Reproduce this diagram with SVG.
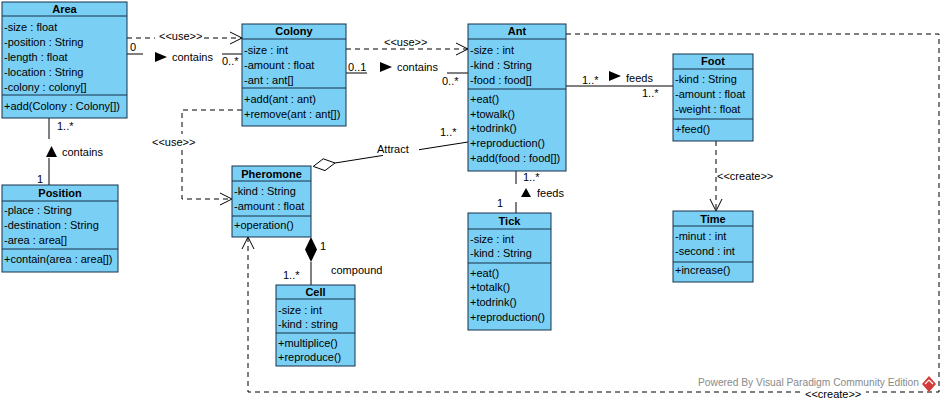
<svg xmlns="http://www.w3.org/2000/svg" width="942" height="402" viewBox="0 0 942 402">
<style>
.box{fill:#7acff5;stroke:#17304a;stroke-width:1}
.sep{stroke:#17304a;stroke-width:1}
text{font-family:"Liberation Sans",Arial,sans-serif;font-size:11px;fill:#000}
.ti{font-weight:bold;text-anchor:middle}
.ln{stroke:#000;stroke-width:1;fill:none}
.ds{stroke:#000;stroke-width:1;fill:none;stroke-dasharray:5,4}
.wm{fill:#8a8a8a;font-size:10px}
</style>
<defs>
<marker id="open" viewBox="-13 -7 14 14" refX="0" refY="0" markerWidth="14" markerHeight="14" markerUnits="userSpaceOnUse" orient="auto">
<path d="M-12,-6 L0,0 L-12,6" fill="none" stroke="#000" stroke-width="1" stroke-dasharray="none"/>
</marker>
</defs>
<rect width="942" height="402" fill="#fff"/>

<g id="connectors">
<path class="ds" d="M127,38 H155"/>
<path class="ds" d="M204,38 H242" marker-end="url(#open)"/>
<text x="159" y="40">&lt;&lt;use&gt;&gt;</text>
<path class="ln" d="M127,54 H143"/>
<path class="ln" d="M222,54 H242"/>
<text x="130" y="51">0</text>
<polygon points="155,52 155,62 167,57" fill="#000"/>
<text x="172" y="61">contains</text>
<text x="222" y="65">0..*</text>
<path class="ds" d="M346,49 H468" marker-end="url(#open)"/>
<text x="384" y="46">&lt;&lt;use&gt;&gt;</text>
<path class="ln" d="M346,73 H367"/>
<path class="ln" d="M447,73 H468"/>
<text x="348" y="71">0..1</text>
<polygon points="380,62 380,72 392,67" fill="#000"/>
<text x="397" y="71">contains</text>
<text x="442" y="85">0..*</text>
<path class="ln" d="M566,86 H673"/>
<text x="582" y="84">1..*</text>
<polygon points="609,71 609,81 621,76" fill="#000"/>
<text x="626" y="82">feeds</text>
<text x="642" y="97">1..*</text>
<path class="ln" d="M49,118 V139"/>
<path class="ln" d="M49,158 V185"/>
<polygon points="46,157 57,157 51.5,146" fill="#000"/>
<text x="62" y="156">contains</text>
<text x="57" y="130">1..*</text>
<text x="37" y="183">1</text>
<path class="ds" d="M242,110 H182 V134"/>
<path class="ds" d="M182,150 V199 H232" marker-end="url(#open)"/>
<text x="152" y="146">&lt;&lt;use&gt;&gt;</text>
<path class="ln" d="M335,163 L383,155.4"/>
<path class="ln" d="M419,149.7 L468,142"/>
<polygon points="313.3,166.4 323.2,158.8 335,163 325,170.6" fill="#fff" stroke="#000" stroke-width="1"/>
<text x="377" y="153">Attract</text>
<text x="440" y="136">1..*</text>
<path class="ln" d="M516,171 V184"/>
<path class="ln" d="M516,202 V213"/>
<polygon points="521,197 531,197 526,188" fill="#000"/>
<text x="537" y="197">feeds</text>
<text x="523" y="181">1..*</text>
<text x="497" y="207">1</text>
<path class="ln" d="M311,262 V285"/>
<polygon points="311,237 317,249.5 311,262 305,249.5" fill="#000"/>
<text x="320" y="250">1</text>
<text x="331" y="274">compound</text>
<text x="283" y="279">1..*</text>
<path class="ds" d="M716,141 V211" marker-end="url(#open)"/>
<text x="717" y="180">&lt;&lt;create&gt;&gt;</text>
<path class="ds" d="M566,34 H939 V392 H866"/>
<path class="ds" d="M800,392 H248 V237" marker-end="url(#open)"/>
<text x="805" y="398">&lt;&lt;create&gt;&gt;</text>
</g>

<g id="Area">
<rect class="box" x="2" y="2" width="125" height="116"/>
<line class="sep" x1="2" y1="16" x2="127" y2="16"/>
<line class="sep" x1="2" y1="95" x2="127" y2="95"/>
<text class="ti" x="64.5" y="13">Area</text>
<text x="4" y="31">-size : float</text>
<text x="4" y="46">-position : String</text>
<text x="4" y="61">-length : float</text>
<text x="4" y="76">-location : String</text>
<text x="4" y="91">-colony : colony[]</text>
<text x="4" y="110">+add(Colony : Colony[])</text>
</g>

<g id="Colony">
<rect class="box" x="242" y="24" width="104" height="102"/>
<line class="sep" x1="242" y1="39" x2="346" y2="39"/>
<line class="sep" x1="242" y1="88" x2="346" y2="88"/>
<text class="ti" x="294" y="35">Colony</text>
<text x="244" y="54">-size : int</text>
<text x="244" y="69">-amount : float</text>
<text x="244" y="84">-ant : ant[]</text>
<text x="244" y="103">+add(ant : ant)</text>
<text x="244" y="118">+remove(ant : ant[])</text>
</g>

<g id="Ant">
<rect class="box" x="468" y="24" width="98" height="147"/>
<line class="sep" x1="468" y1="39" x2="566" y2="39"/>
<line class="sep" x1="468" y1="89" x2="566" y2="89"/>
<text class="ti" x="517" y="35">Ant</text>
<text x="470" y="54">-size : int</text>
<text x="470" y="69">-kind : String</text>
<text x="470" y="84">-food : food[]</text>
<text x="470" y="103">+eat()</text>
<text x="470" y="118">+towalk()</text>
<text x="470" y="132">+todrink()</text>
<text x="470" y="147">+reproduction()</text>
<text x="470" y="162">+add(food : food[])</text>
</g>

<g id="Foot">
<rect class="box" x="673" y="54" width="80" height="87"/>
<line class="sep" x1="673" y1="69" x2="753" y2="69"/>
<line class="sep" x1="673" y1="119" x2="753" y2="119"/>
<text class="ti" x="713" y="65">Foot</text>
<text x="675" y="83">-kind : String</text>
<text x="675" y="98">-amount : float</text>
<text x="675" y="113">-weight : float</text>
<text x="675" y="133">+feed()</text>
</g>

<g id="Position">
<rect class="box" x="2" y="185" width="116" height="87"/>
<line class="sep" x1="2" y1="201" x2="118" y2="201"/>
<line class="sep" x1="2" y1="249" x2="118" y2="249"/>
<text class="ti" x="60" y="197">Position</text>
<text x="4" y="214">-place : String</text>
<text x="4" y="229">-destination : String</text>
<text x="4" y="244">-area : area[]</text>
<text x="4" y="263">+contain(area : area[])</text>
</g>

<g id="Pheromone">
<rect class="box" x="232" y="166" width="79" height="71"/>
<line class="sep" x1="232" y1="181" x2="311" y2="181"/>
<line class="sep" x1="232" y1="216" x2="311" y2="216"/>
<text class="ti" x="271.5" y="178">Pheromone</text>
<text x="234" y="195">-kind : String</text>
<text x="234" y="210">-amount : float</text>
<text x="234" y="229">+operation()</text>
</g>

<g id="Tick">
<rect class="box" x="468" y="213" width="83" height="117"/>
<line class="sep" x1="468" y1="229" x2="551" y2="229"/>
<line class="sep" x1="468" y1="263" x2="551" y2="263"/>
<text class="ti" x="509.5" y="225">Tick</text>
<text x="470" y="243">-size : int</text>
<text x="470" y="257">-kind : String</text>
<text x="470" y="277">+eat()</text>
<text x="470" y="291">+totalk()</text>
<text x="470" y="306">+todrink()</text>
<text x="470" y="321">+reproduction()</text>
</g>

<g id="Cell">
<rect class="box" x="276" y="285" width="79" height="81"/>
<line class="sep" x1="276" y1="299" x2="355" y2="299"/>
<line class="sep" x1="276" y1="333" x2="355" y2="333"/>
<text class="ti" x="315.5" y="296">Cell</text>
<text x="278" y="314">-size : int</text>
<text x="278" y="328">-kind : string</text>
<text x="278" y="347">+multiplice()</text>
<text x="278" y="361">+reproduce()</text>
</g>

<g id="Time">
<rect class="box" x="673" y="211" width="80" height="71"/>
<line class="sep" x1="673" y1="226" x2="753" y2="226"/>
<line class="sep" x1="673" y1="262" x2="753" y2="262"/>
<text class="ti" x="713" y="223">Time</text>
<text x="675" y="240">-minut : int</text>
<text x="675" y="255">-second : int</text>
<text x="675" y="274">+increase()</text>
</g>

<g id="watermark">
<text class="wm" x="698" y="386" textLength="221" lengthAdjust="spacingAndGlyphs">Powered By  Visual Paradigm Community Edition</text>
<polygon points="929,376 936,384 929,392 922,384" fill="#d33a3a"/>
<path d="M925,384 L929,380 L933,384" fill="none" stroke="#fff" stroke-width="1.2"/>
</g>
</svg>
